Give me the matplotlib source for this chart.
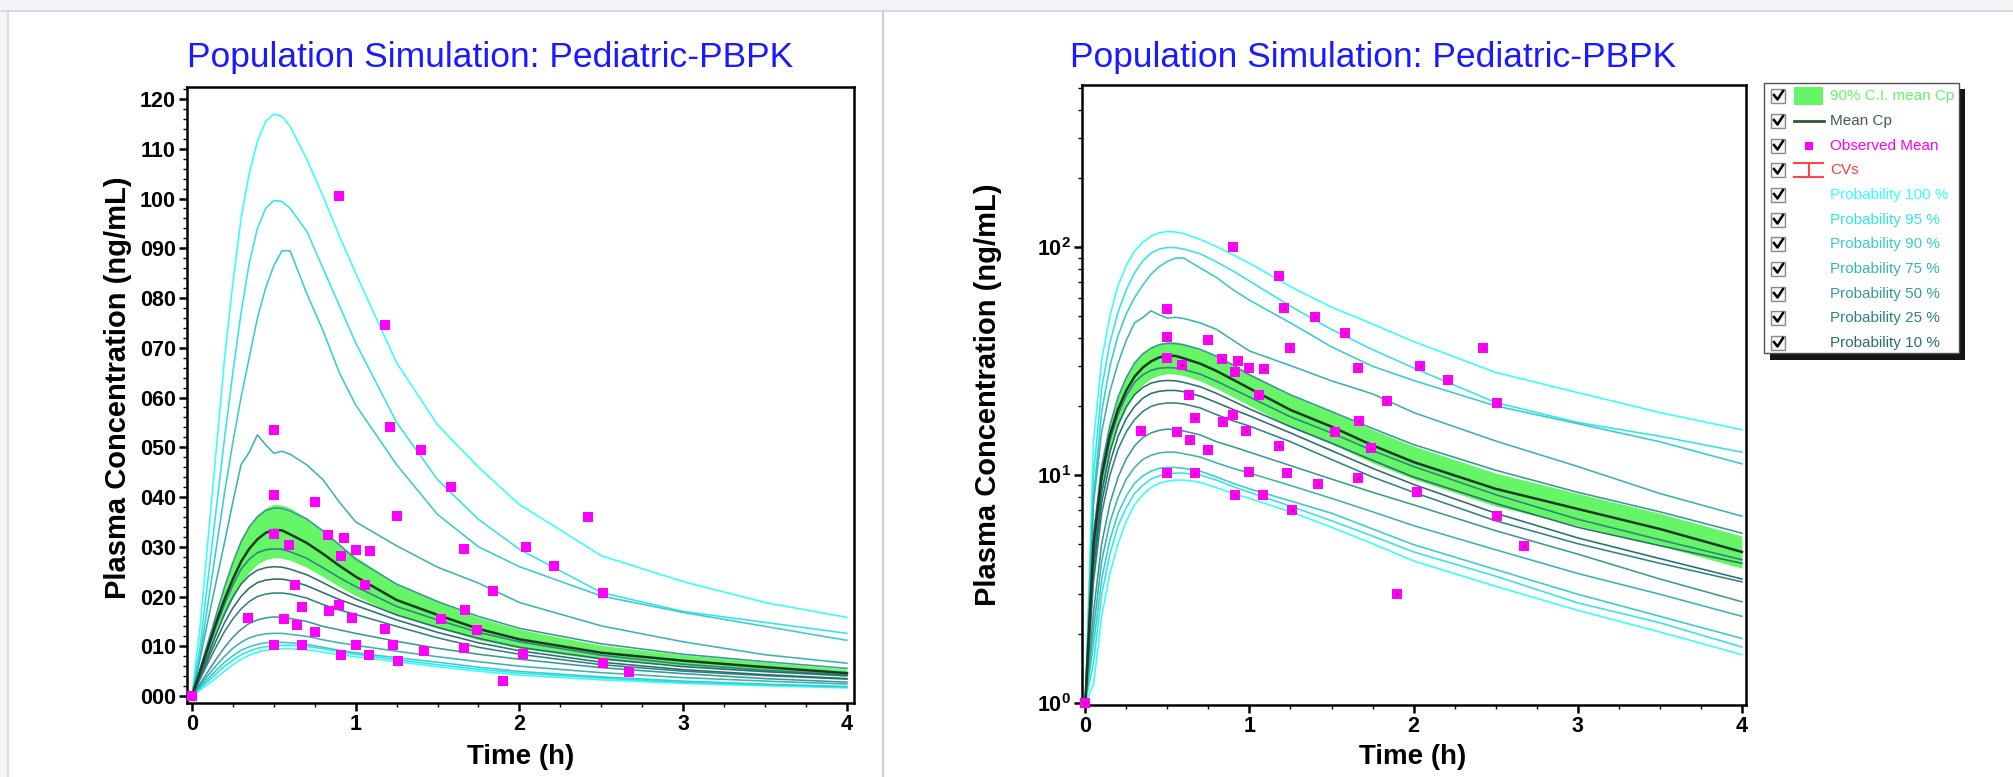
import numpy as np
import matplotlib
matplotlib.use('Agg')
import matplotlib.pyplot as plt
from matplotlib.patches import Rectangle
from matplotlib.lines import Line2D
from matplotlib.ticker import MultipleLocator, FixedLocator, FixedFormatter, LogLocator, NullFormatter

plt.rcParams['font.family'] = ['Liberation Sans', 'DejaVu Sans']
plt.rcParams['mathtext.fontset'] = 'custom'
plt.rcParams['mathtext.rm'] = 'Liberation Sans'
plt.rcParams['mathtext.bf'] = 'Liberation Sans:bold'

W, H = 2013, 777

# simulated time grid (h)
time_h = [0, 0.05, 0.1, 0.15, 0.2, 0.25, 0.3, 0.35, 0.4, 0.45, 0.5, 0.55, 0.6, 0.7, 0.8, 0.9,
          1.0, 1.25, 1.5, 1.75, 2.0, 2.5, 3.0, 3.5, 4.0]

# mean Cp and its 90% C.I.
mean_cp = [0, 5, 10, 15, 19.5, 23.5, 27, 29.6, 31.5, 32.8, 33.4, 33.3, 32.5, 30.8, 28.6, 26.2,
           24, 19.3, 16.3, 13.5, 11.4, 8.7, 7.1, 5.8, 4.6]
ci_hi = [0, 5.8, 11.5, 17.2, 22.5, 27.3, 31.5, 34.4, 36.5, 37.8, 38.5, 38.4, 37.8, 35.8, 33.2, 30.5,
         28, 22.5, 19, 15.8, 13.4, 10.2, 8.3, 6.8, 5.4]
ci_lo = [0, 4.2, 8.4, 12.6, 16.4, 19.8, 22.7, 24.9, 26.5, 27.4, 27.8, 27.7, 27.3, 25.9, 24.0, 22.0,
         20.2, 16.2, 13.7, 11.3, 9.6, 7.3, 6.0, 4.9, 3.9]

# percentile curves (upper / lower bound of each probability range)
p_max = [0, 14, 32, 50, 68, 83, 96, 105, 111.5, 115.5, 117, 116.5, 114.5, 108, 100.5, 92.5,
         85, 67, 54.5, 46, 38.5, 28.2, 23.0, 18.8, 15.8]
p975 = [0, 10, 24, 38, 52, 65, 77, 87, 94, 98, 99.6, 99.4, 98, 93.5, 86, 78.5,
        71, 55, 43.5, 35.5, 29.5, 20.8, 17.0, 14.8, 12.6]
p95 = [0, 8, 19, 30, 41, 51, 60, 68, 76, 82, 86.5, 89.5, 89.5, 81, 73.5, 65,
       58.5, 46.5, 36.5, 30, 26, 20.1, 16.8, 14.0, 11.2]
p875 = [0, 7.5, 15.5, 23.3, 31, 39, 46.5, 49, 52.5, 50.5, 48.8, 49.2, 48.6, 46.5, 43.5, 39,
        35, 30.2, 25.9, 22.7, 18.8, 14.1, 10.9, 8.3, 6.6]
p75 = [0, 5.5, 11.0, 16.5, 22.0, 26.8, 31.0, 34.0, 36.0, 37.3, 37.8, 37.7, 37.2, 35.6, 33.2, 30.4,
       27.5, 22.5, 19.0, 16.0, 13.6, 10.5, 8.4, 6.9, 5.56]
p625 = [0, 4.8, 9.5, 14.2, 18.5, 22.3, 25.5, 27.5, 28.8, 29.4, 29.6, 29.5, 29.0, 27.7, 25.8, 23.8,
        22.0, 18.0, 15.3, 12.8, 10.9, 8.2, 6.4, 5.2, 4.25]
p55 = [0, 4.2, 8.4, 12.6, 16.6, 19.9, 22.5, 24.2, 25.3, 25.8, 26.0, 25.9, 25.5, 24.4, 22.8, 21.1,
       19.5, 16.3, 13.8, 11.6, 9.8, 7.5, 5.9, 4.9, 4.1]
p45 = [0, 3.8, 7.6, 11.3, 14.8, 17.7, 20.0, 21.7, 22.8, 23.3, 23.5, 23.5, 23.2, 22.2, 20.8, 19.4,
       18.2, 15.3, 12.8, 10.7, 9.1, 6.8, 5.3, 4.3, 3.5]
p375 = [0, 3.4, 6.8, 10.0, 13.0, 15.5, 17.5, 19.0, 20.0, 20.5, 20.7, 20.7, 20.5, 19.7, 18.4, 17.3,
        16.4, 14.0, 11.7, 9.8, 8.4, 6.3, 5.0, 4.1, 3.4]
p25 = [0, 2.5, 5.0, 7.5, 9.8, 11.8, 13.4, 14.6, 15.3, 15.7, 15.9, 15.8, 15.6, 15.0, 14.0, 13.3,
       12.6, 11.0, 9.6, 8.4, 7.4, 5.7, 4.5, 3.5, 2.78]
p125 = [0, 2.1, 4.2, 6.2, 8.0, 9.6, 10.8, 11.7, 12.2, 12.5, 12.6, 12.6, 12.4, 12.0, 11.3, 10.7,
        10.2, 9.0, 7.9, 6.9, 6.0, 4.7, 3.7, 3.0, 2.4]
p05 = [0, 1.8, 3.5, 5.2, 6.8, 8.1, 9.2, 9.9, 10.4, 10.7, 10.8, 10.8, 10.7, 10.4, 9.8, 9.2,
       8.7, 7.7, 6.8, 5.8, 4.95, 3.85, 3.0, 2.4, 1.92]
p025 = [0, 1.5, 3.0, 4.5, 6.0, 7.2, 8.3, 9.0, 9.6, 9.9, 10.1, 10.2, 10.2, 10.0, 9.5, 8.9,
        8.4, 7.3, 6.3, 5.4, 4.6, 3.6, 2.75, 2.25, 1.76]
p_min = [0, 1.2, 2.4, 3.7, 5.0, 6.3, 7.4, 8.2, 8.8, 9.2, 9.4, 9.5, 9.5, 9.3, 8.8, 8.3,
         7.9, 6.9, 5.9, 5.0, 4.2, 3.25, 2.55, 2.05, 1.63]

# observed means
obs_t = [0, 0.34, 0.5, 0.5, 0.5, 0.5, 0.56, 0.59, 0.63, 0.64, 0.67, 0.67, 0.75, 0.75, 0.83,
         0.84, 0.9, 0.9, 0.91, 0.91, 0.93, 0.98, 1.0, 1.0, 1.06, 1.08, 1.09, 1.18, 1.18, 1.21,
         1.23, 1.25, 1.26, 1.4, 1.42, 1.52, 1.58, 1.66, 1.66, 1.67, 1.74, 1.84, 1.9, 2.02, 2.04,
         2.21, 2.42, 2.51, 2.51, 2.67]
obs_c = [0, 15.6, 53.5, 40.5, 32.6, 10.2, 15.4, 30.3, 22.4, 14.3, 17.8, 10.2, 39.1, 12.9, 32.3,
         17.1, 100.5, 18.3, 28.2, 8.2, 31.8, 15.6, 29.4, 10.3, 22.4, 8.2, 29.1, 74.5, 13.4, 54.1,
         10.2, 36.2, 7.0, 49.4, 9.1, 15.4, 42.1, 29.5, 9.7, 17.3, 13.2, 21.1, 3.0, 8.4, 30.0,
         26.1, 35.9, 20.8, 6.6, 4.9]

prob_labels = ['Probability 100 %', 'Probability 95 %', 'Probability 90 %', 'Probability 75 %',
               'Probability 50 %', 'Probability 25 %', 'Probability 10 %']
prob_colors = ['#33ffff', '#33e4e4', '#38cccc', '#3cb2b2', '#399999', '#2f8383', '#296f6f']
prob_pairs = [(p_max, p_min), (p975, p025), (p95, p05), (p875, p125), (p75, p25), (p625, p375), (p55, p45)]

band_color = '#66f566'
mean_color = '#1c3a24'
obs_color = '#ff00ff'


def fx(px):
    return px / W


def fy(py):
    return 1 - py / H


fig = plt.figure(figsize=(W / 100, H / 100), dpi=100)
fig.patch.set_facecolor('white')

# window chrome
fig.add_artist(Rectangle((0, fy(11)), 1, 11 / H, transform=fig.transFigure, color='#f2f4f8', lw=0))
fig.add_artist(Rectangle((0, 0), fx(8), fy(11), transform=fig.transFigure, color='#f2f4f8', lw=0))
fig.add_artist(Line2D([0, 1], [fy(11), fy(11)], transform=fig.transFigure, color='#d6d6d6', lw=1.2))
fig.add_artist(Line2D([fx(8), fx(8)], [0, fy(11)], transform=fig.transFigure, color='#d6d6d6', lw=1.2))
fig.add_artist(Line2D([fx(883), fx(883)], [0, fy(11)], transform=fig.transFigure, color='#cfcfcf', lw=1.6))

ax1 = fig.add_axes([fx(187), fy(702.5), (853.5 - 187) / W, (702.5 - 86.6) / H])
ax2 = fig.add_axes([fx(1082), fy(705), (1746 - 1082) / W, (705 - 85) / H])


def draw(ax, logy):
    t = np.array(time_h)
    if logy:
        f = lambda v: np.clip(np.array(v, dtype=float), 1.0, None)
    else:
        f = lambda v: np.array(v, dtype=float)
    ax.fill_between(t, f(ci_lo), f(ci_hi), color=band_color, lw=0, zorder=1)
    for (hi, lo), col in zip(prob_pairs, prob_colors):
        ax.plot(t, f(hi), color=col, lw=1.15, zorder=2)
        ax.plot(t, f(lo), color=col, lw=1.15, zorder=2)
    ax.plot(t, f(mean_cp), color=mean_color, lw=1.8, zorder=3)
    ax.plot(obs_t, f(obs_c), 's', color=obs_color, ms=7, mew=0, zorder=4, clip_on=False)
    if logy:
        ax.plot(obs_t, f(obs_c), '.', color='#a00030', ms=1.5, zorder=5, clip_on=False)

    for sp in ax.spines.values():
        sp.set_linewidth(1.8)
    ax.xaxis.set_major_locator(FixedLocator([0, 1, 2, 3, 4]))
    ax.xaxis.set_minor_locator(MultipleLocator(0.25))
    ax.tick_params(which='major', direction='out', length=6, width=1.8, labelsize=15.5, pad=2)
    ax.tick_params(which='minor', direction='out', length=3, width=1.0)


draw(ax1, False)
ax1.set_xlim(-0.03, 4.04)
ax1.set_ylim(-1.3, 122.5)
ax1.yaxis.set_major_locator(FixedLocator(list(range(0, 121, 10))))
ax1.yaxis.set_major_formatter(FixedFormatter(['%03d' % v for v in range(0, 121, 10)]))
ax1.yaxis.set_minor_locator(MultipleLocator(2))
for lab in ax1.get_yticklabels() + ax1.get_xticklabels():
    lab.set_fontweight('bold')

ax2.set_yscale('log')
draw(ax2, True)
ax2.set_xlim(-0.02, 4.025)
ax2.set_ylim(0.98, 514)
ax2.yaxis.set_major_locator(FixedLocator([1, 10, 100]))
ax2.yaxis.set_major_formatter(FixedFormatter([r'$\mathbf{10^{0}}$', r'$\mathbf{10^{1}}$', r'$\mathbf{10^{2}}$']))
ax2.yaxis.set_minor_locator(LogLocator(base=10, subs=np.arange(2, 10)))
ax2.yaxis.set_minor_formatter(NullFormatter())
for lab in ax2.get_xticklabels():
    lab.set_fontweight('bold')

# titles and axis labels
title = 'Population Simulation: Pediatric-PBPK'
for cx in (490, 1373):
    fig.text(fx(cx), fy(67), title, ha='center', va='baseline', fontsize=25.5, color='#1a1aff')
fig.text(fx(118), fy(388), 'Plasma Concentration (ng/mL)', rotation=90, ha='center', va='center',
         fontsize=21, fontweight='bold')
fig.text(fx(988), fy(395), 'Plasma Concentration (ng/mL)', rotation=90, ha='center', va='center',
         fontsize=21, fontweight='bold')
fig.text(fx(521), fy(757), 'Time (h)', ha='center', va='center', fontsize=20, fontweight='bold')
fig.text(fx(1413), fy(757), 'Time (h)', ha='center', va='center', fontsize=20, fontweight='bold')

# legend panel
fig.add_artist(Rectangle((fx(1770), fy(360)), (1965 - 1770) / W, (360 - 89) / H,
                         transform=fig.transFigure, color='#151515', lw=0))
fig.add_artist(Rectangle((fx(1764), fy(353)), (1959 - 1764) / W, (353 - 83) / H,
                         transform=fig.transFigure, facecolor='white', edgecolor='#505050', lw=1))

leg_labels = ['90% C.I. mean Cp', 'Mean Cp', 'Observed Mean', 'CVs'] + prob_labels
leg_colors = ['#66f566', '#3f5f47', '#ff00ff', '#ff3a3a'] + prob_colors
row_y = [96, 121, 146, 170, 195, 220, 244, 269, 294, 318, 343]

for i, (lab, col, ry) in enumerate(zip(leg_labels, leg_colors, row_y)):
    fig.add_artist(Rectangle((fx(1771), fy(ry + 7)), 14 / W, 14 / H, transform=fig.transFigure,
                             facecolor='#f6f6f2', edgecolor='#8a8a8a', lw=1))
    fig.add_artist(Line2D([fx(1774), fx(1777.5), fx(1783)], [fy(ry - 1), fy(ry + 3.5), fy(ry - 5)],
                          transform=fig.transFigure, color='black', lw=1.8))
    if i == 0:
        fig.add_artist(Rectangle((fx(1794), fy(ry + 9)), 29 / W, 18 / H, transform=fig.transFigure,
                                 color=band_color, lw=0))
    elif i == 1:
        fig.add_artist(Line2D([fx(1794), fx(1824)], [fy(ry), fy(ry)], transform=fig.transFigure,
                              color='#2d5a37', lw=2))
    elif i == 2:
        fig.add_artist(Line2D([fx(1809)], [fy(ry)], transform=fig.transFigure, marker='s',
                              color=obs_color, ms=6, mew=0, lw=0))
    elif i == 3:
        for yy in (ry - 7, ry + 7):
            fig.add_artist(Line2D([fx(1794), fx(1823)], [fy(yy), fy(yy)], transform=fig.transFigure,
                                  color='#ff4545', lw=1.5))
        fig.add_artist(Line2D([fx(1808.5), fx(1808.5)], [fy(ry - 7), fy(ry + 7)],
                              transform=fig.transFigure, color='#ff4545', lw=1.5))
    fig.text(fx(1830), fy(ry), lab, ha='left', va='center', fontsize=11, color=col)

fig.savefig('out.png', dpi=100, facecolor=fig.get_facecolor())
